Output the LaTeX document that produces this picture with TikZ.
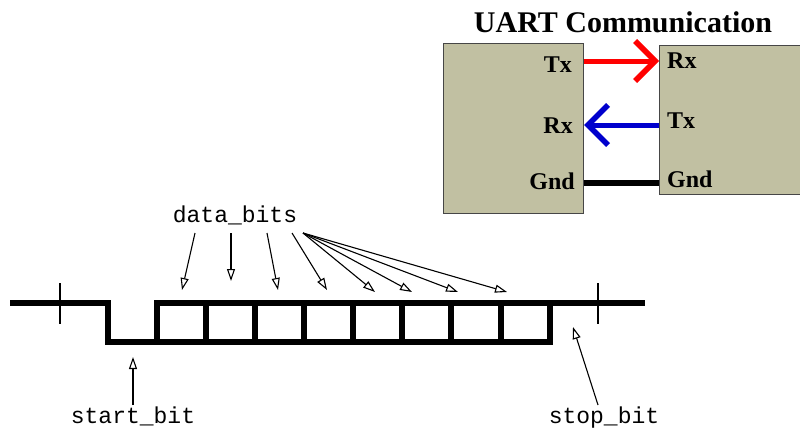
\documentclass[tikz,border=0pt]{standalone}
\usepackage{fontspec}
\setmainfont{Liberation Serif}
\newfontfamily\monofont{Liberation Mono}
\usetikzlibrary{arrows.meta}
\definecolor{boxfill}{RGB}{193,192,162}
\definecolor{boxedge}{RGB}{70,70,70}
\definecolor{txred}{RGB}{255,0,0}
\definecolor{txblue}{RGB}{0,0,205}
\tikzset{
  devbox/.style={draw=boxedge, line width=1.2, fill=boxfill, inner sep=0, anchor=north west},
  pinlabel/.style={font=\fontsize{24}{28}\selectfont\bfseries, inner sep=0},
  biglink/.style={line width=5, -{Straight Barb[length=20pt, width=40pt, line width=5.5pt]}},
  wave/.style={line width=5.5, line join=miter, line cap=rect},
  tick/.style={line width=1.5},
  bitlabel/.style={font=\monofont\fontsize{23}{26}\selectfont, inner sep=0, anchor=base},
  bitarrow/.style={line width=1.1, -{Triangle[open, length=12pt, width=8pt, line width=1.1pt]}}
}
\begin{document}
\begin{tikzpicture}[x=1pt, y=-1pt]
\useasboundingbox (0,0) rectangle (800,431);

% title and the two devices
\node[font=\fontsize{30}{33}\selectfont\bfseries, inner sep=0, anchor=base] (title) at (623,32) {UART Communication};
\node[devbox, minimum width=140, minimum height=170] (L) at (443,43) {};
\node[devbox, minimum width=160, minimum height=149] (R) at (659,45) {};

\node[pinlabel, anchor=base east] (ltx) at (572,72) {Tx};
\node[pinlabel, anchor=base east] (lrx) at (573,133) {Rx};
\node[pinlabel, anchor=base east] (lgnd) at (575,189) {Gnd};
\node[pinlabel, anchor=base west] (rrx) at (667,68) {Rx};
\node[pinlabel, anchor=base west] (rtx) at (667,128) {Tx};
\node[pinlabel, anchor=base west] (rgnd) at (667,187) {Gnd};

% wires between the devices
\draw[biglink, txred] (L.east |- 0,61) -- (R.west |- 0,61);
\draw[biglink, txblue] (R.west |- 0,125) -- (L.east |- 0,125);
\draw[line width=6] (L.east |- 0,183) -- (R.west |- 0,183);

% serial frame waveform
\draw[wave] (13,303) -- (108,303) -- (108,342) -- (157,342) -- (157,303) -- (642,303);
\draw[wave] (157,342) -- (550,342) -- (550,303);
\foreach \x in {206,255,304,353,402,451,501}
  \draw[wave] (\x,303) -- (\x,342);
\draw[tick] (60,283) -- (60,324);
\draw[tick] (598,283) -- (598,324);

% labels
\node[bitlabel] (data) at (235,222) {data\_bits};
\node[bitlabel] (start) at (133,423) {start\_bit};
\node[bitlabel] (stop) at (604,423) {stop\_bit};

% arrows from the data_bits label to each bit
\coordinate (s1) at (195,233);
\coordinate (s2) at (231,233);
\coordinate (s3) at (267,233);
\coordinate (s4) at (292,233);
\coordinate (s5) at (303,233);
\coordinate (e1) at (182,290);
\coordinate (e2) at (231,281);
\coordinate (e3) at (278,290);
\coordinate (e4) at (327,290);
\coordinate (e5) at (375,292);
\coordinate (e6) at (412,292);
\coordinate (e7) at (458,292);
\coordinate (e8) at (507,292);
\draw[bitarrow] (s1) -- (e1);
\draw[bitarrow] (s2) -- (e2);
\draw[bitarrow] (s3) -- (e3);
\draw[bitarrow] (s4) -- (e4);
\foreach \e in {e5,e6,e7,e8}
  \draw[bitarrow] (s5) -- (\e);

% start and stop bit pointers
\coordinate (st0) at (133,405);
\coordinate (st1) at (133,357);
\coordinate (sp0) at (598,405);
\coordinate (sp1) at (573,327);
\draw[bitarrow] (st0) -- (st1);
\draw[bitarrow] (sp0) -- (sp1);
\end{tikzpicture}
\end{document}
